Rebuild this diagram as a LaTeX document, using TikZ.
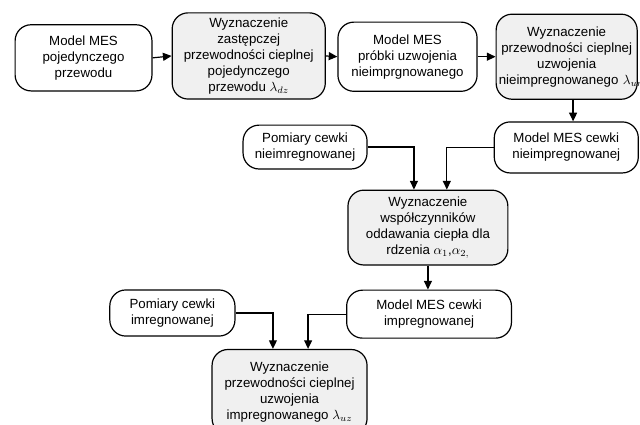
\documentclass[tikz,border=0pt]{standalone}
\usepackage{fontspec}
\setmainfont{Liberation Sans}
\usepackage{amsmath}
\usepackage{tikz}
\usetikzlibrary{arrows.meta,positioning}
\definecolor{boxgrey}{HTML}{F0F0F0}

\begin{document}
\begin{tikzpicture}[x=1cm,y=1cm,
  stage/.style={rectangle,rounded corners=12pt,draw=black,line width=0.9pt,fill=white,align=center,font=\fontsize{10}{12}\selectfont,inner sep=2pt},
  calc/.style={stage,fill=boxgrey},
  flow/.style={-{Triangle[length=6.5pt,width=6pt]},line width=0.9pt}]
\useasboundingbox (0,0) rectangle (16.93,-11.22);
\node[stage,minimum width=3.62cm,minimum height=1.75cm] (m1) at (2.21,-1.53) {Model MES\\pojedynczego\\przewodu};
\node[calc,minimum width=4.05cm,minimum height=2.28cm] (w2) at (6.58,-1.48) {Wyznaczenie\\zastępczej\\przewodności cieplnej\\pojedynczego\\przewodu $\lambda_{dz}$};
\node[stage,minimum width=3.68cm,minimum height=1.83cm] (m3) at (10.78,-1.50) {Model MES\\próbki uzwojenia\\nieimprgnowanego};
\node[calc,text width=3.59cm,minimum height=2.25cm] (w4) at (14.99,-1.50) {Wyznaczenie\\przewodności cieplnej\\uzwojenia\\nieimpregnowanego~$\lambda_{un}$};
\node[stage,minimum width=3.81cm,minimum height=1.35cm] (m5) at (14.98,-3.90) {Model MES cewki\\nieimpregnowanej};
\node[stage,minimum width=3.28cm,minimum height=1.16cm] (p6) at (8.07,-3.89) {Pomiary cewki\\nieimregnowanej};
\node[calc,minimum width=4.23cm,minimum height=1.98cm] (w7) at (11.32,-6.02) {Wyznaczenie\\współczynników\\oddawania ciepła dla\\rdzenia $\alpha_{1}$,$\alpha_{2,}$};
\node[stage,minimum width=4.36cm,minimum height=1.27cm] (m8) at (11.35,-8.31) {Model MES cewki\\impregnowanej};
\node[stage,minimum width=3.31cm,minimum height=1.22cm] (p9) at (4.56,-8.28) {Pomiary cewki\\imregnowanej};
\node[calc,minimum width=4.10cm,minimum height=2.25cm] (w10) at (7.66,-10.37) {Wyznaczenie\\przewodności cieplnej\\uzwojenia\\impregnowanego $\lambda_{uz}$};
% top row
\draw[flow] (m1.east) -- (w2.west);
\draw[flow] (w2.east) -- (m3.west);
\draw[flow] (m3.east) -- (w4.west);
\draw[flow] ([xshift=0.17cm]w4.south) -- ([xshift=0.17cm]w4.south |- m5.north);
% middle
\draw[flow] (p6.east) -| ([xshift=-0.37cm]w7.north);
\draw[flow] (m5.west) -| ([xshift=0.50cm]w7.north);
\draw[flow] (w7.south) -- (w7.south |- m8.north);
% bottom
\draw[flow] (p9.east) -| ([xshift=-0.44cm]w10.north);
\draw[flow] (m8.west) -| ([xshift=0.49cm]w10.north);
\end{tikzpicture}
\end{document}
